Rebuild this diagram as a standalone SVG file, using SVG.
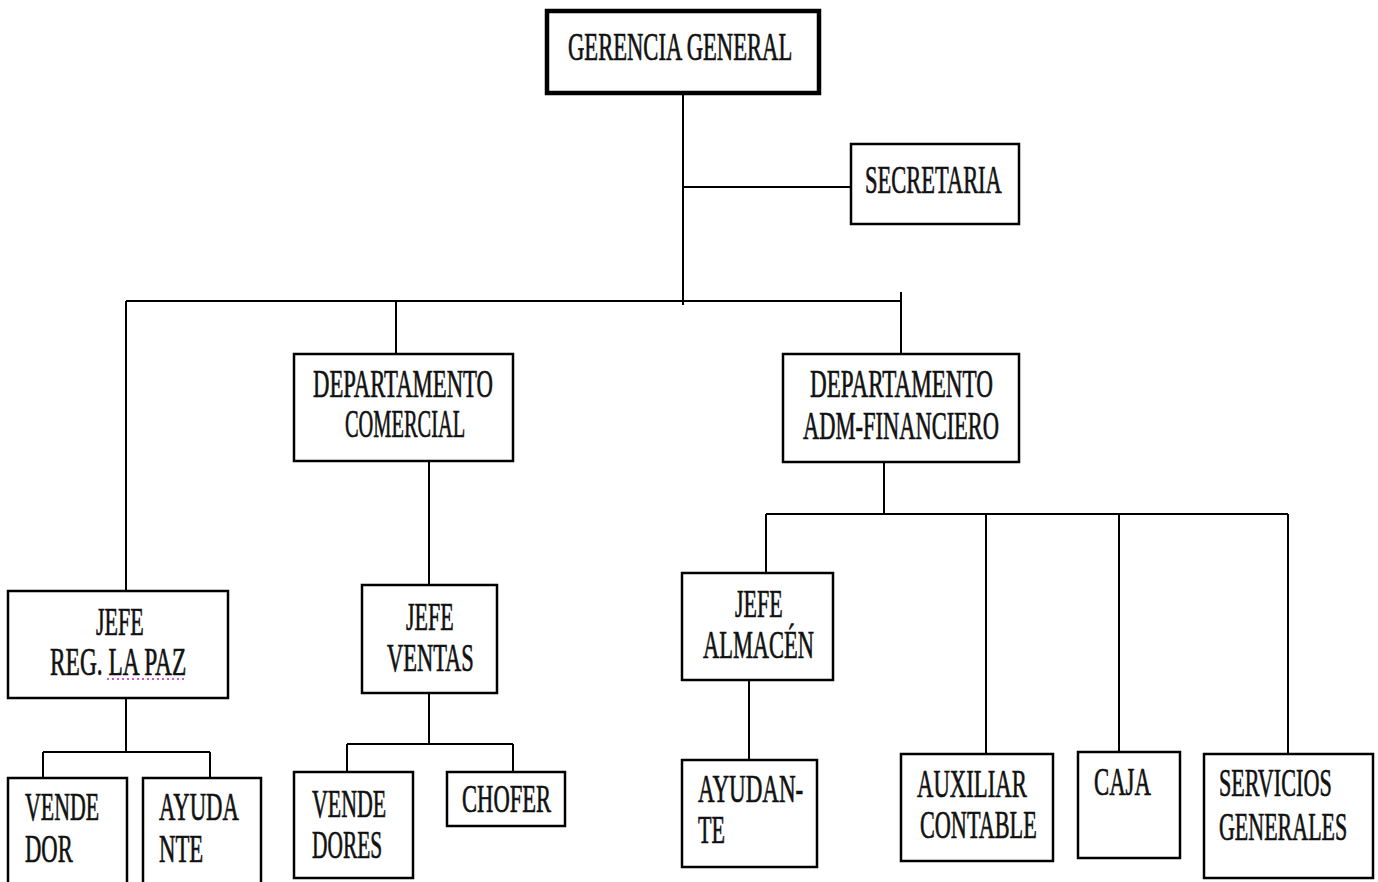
<svg xmlns="http://www.w3.org/2000/svg" width="1378" height="882" viewBox="0 0 1378 882">
<style>
.box{fill:#fff;stroke:#000;stroke-width:2.5}
.top{fill:#fff;stroke:#000;stroke-width:4.5}
.ln{fill:none;stroke:#000;stroke-width:2}
text{font-family:"Liberation Serif","Times New Roman",serif;font-size:39px;fill:#111;stroke:#111;stroke-width:0.7}
</style>
<rect width="1378" height="882" fill="#fff"/>
<g id="connectors">
<path class="ln" d="M683,93 V305 M683,187 H851 M126,301 H901 M901,292 V354 M126,301 V591 M396,301 V354"/>
<path class="ln" d="M429,461 V585 M429,693 V744 M347,744 H513 M347,744 V772 M513,744 V772"/>
<path class="ln" d="M126,698 V752 M43,752 H210 M43,752 V785 M210,752 V778"/>
<path class="ln" d="M884,462 V514 M766,514 H1288 M766,514 V573 M986,514 V754 M1119,514 V752 M1288,514 V754 M749,680 V760"/>
</g>
<g id="gerencia"><rect class="top" x="547" y="11" width="272" height="82"/><text transform="translate(568,60) scale(0.575,1)" textLength="390" lengthAdjust="spacingAndGlyphs">GERENCIA GENERAL</text></g>
<g id="secretaria"><rect class="box" x="851" y="144" width="168" height="80"/><text transform="translate(865,193) scale(0.575,1)" textLength="238" lengthAdjust="spacingAndGlyphs">SECRETARIA</text></g>
<g id="dep-comercial"><rect class="box" x="294" y="354" width="219" height="107"/><text transform="translate(313,397) scale(0.575,1)" textLength="313" lengthAdjust="spacingAndGlyphs">DEPARTAMENTO</text><text transform="translate(345,437) scale(0.575,1)" textLength="209" lengthAdjust="spacingAndGlyphs">COMERCIAL</text></g>
<g id="dep-adm"><rect class="box" x="783" y="354" width="236" height="108"/><text transform="translate(810,397) scale(0.575,1)" textLength="318" lengthAdjust="spacingAndGlyphs">DEPARTAMENTO</text><text transform="translate(803,439) scale(0.575,1)" textLength="341" lengthAdjust="spacingAndGlyphs">ADM-FINANCIERO</text></g>
<g id="jefe-reg"><rect class="box" x="8" y="591" width="220" height="107"/><text transform="translate(96,635) scale(0.575,1)" textLength="83" lengthAdjust="spacingAndGlyphs">JEFE</text><text transform="translate(50,675) scale(0.575,1)" textLength="237" lengthAdjust="spacingAndGlyphs">REG. LA PAZ</text><line x1="107" y1="679" x2="187" y2="679" stroke="#c020c0" stroke-width="1.5" stroke-dasharray="2,3"/></g>
<g id="vendedor"><rect class="box" x="8" y="778" width="119" height="120"/><text transform="translate(25,820) scale(0.575,1)" textLength="129" lengthAdjust="spacingAndGlyphs">VENDE</text><text transform="translate(25,862) scale(0.575,1)" textLength="83" lengthAdjust="spacingAndGlyphs">DOR</text></g>
<g id="ayudante1"><rect class="box" x="143" y="778" width="118" height="120"/><text transform="translate(159,820) scale(0.575,1)" textLength="139" lengthAdjust="spacingAndGlyphs">AYUDA</text><text transform="translate(159,862) scale(0.575,1)" textLength="77" lengthAdjust="spacingAndGlyphs">NTE</text></g>
<g id="jefe-ventas"><rect class="box" x="362" y="585" width="135" height="108"/><text transform="translate(406,630) scale(0.575,1)" textLength="83" lengthAdjust="spacingAndGlyphs">JEFE</text><text transform="translate(387,671) scale(0.575,1)" textLength="151" lengthAdjust="spacingAndGlyphs">VENTAS</text></g>
<g id="vendedores"><rect class="box" x="294" y="772" width="119" height="106"/><text transform="translate(312,817) scale(0.575,1)" textLength="129" lengthAdjust="spacingAndGlyphs">VENDE</text><text transform="translate(312,858) scale(0.575,1)" textLength="122" lengthAdjust="spacingAndGlyphs">DORES</text></g>
<g id="chofer"><rect class="box" x="447" y="772" width="118" height="54"/><text transform="translate(462,812) scale(0.575,1)" textLength="155" lengthAdjust="spacingAndGlyphs">CHOFER</text></g>
<g id="jefe-almacen"><rect class="box" x="682" y="573" width="151" height="107"/><text transform="translate(735,617) scale(0.575,1)" textLength="83" lengthAdjust="spacingAndGlyphs">JEFE</text><text transform="translate(703,658) scale(0.575,1)" textLength="193" lengthAdjust="spacingAndGlyphs">ALMACÉN</text></g>
<g id="ayudante2"><rect class="box" x="682" y="760" width="135" height="107"/><text transform="translate(698,802) scale(0.575,1)" textLength="183" lengthAdjust="spacingAndGlyphs">AYUDAN-</text><text transform="translate(698,843) scale(0.575,1)" textLength="47" lengthAdjust="spacingAndGlyphs">TE</text></g>
<g id="auxiliar"><rect class="box" x="901" y="754" width="152" height="107"/><text transform="translate(917,797) scale(0.575,1)" textLength="191" lengthAdjust="spacingAndGlyphs">AUXILIAR</text><text transform="translate(920,838) scale(0.575,1)" textLength="203" lengthAdjust="spacingAndGlyphs">CONTABLE</text></g>
<g id="caja"><rect class="box" x="1078" y="752" width="102" height="106"/><text transform="translate(1094,795) scale(0.575,1)" textLength="99" lengthAdjust="spacingAndGlyphs">CAJA</text></g>
<g id="servicios"><rect class="box" x="1204" y="754" width="169" height="124"/><text transform="translate(1219,796) scale(0.575,1)" textLength="196" lengthAdjust="spacingAndGlyphs">SERVICIOS</text><text transform="translate(1219,840) scale(0.575,1)" textLength="223" lengthAdjust="spacingAndGlyphs">GENERALES</text></g>
</svg>
